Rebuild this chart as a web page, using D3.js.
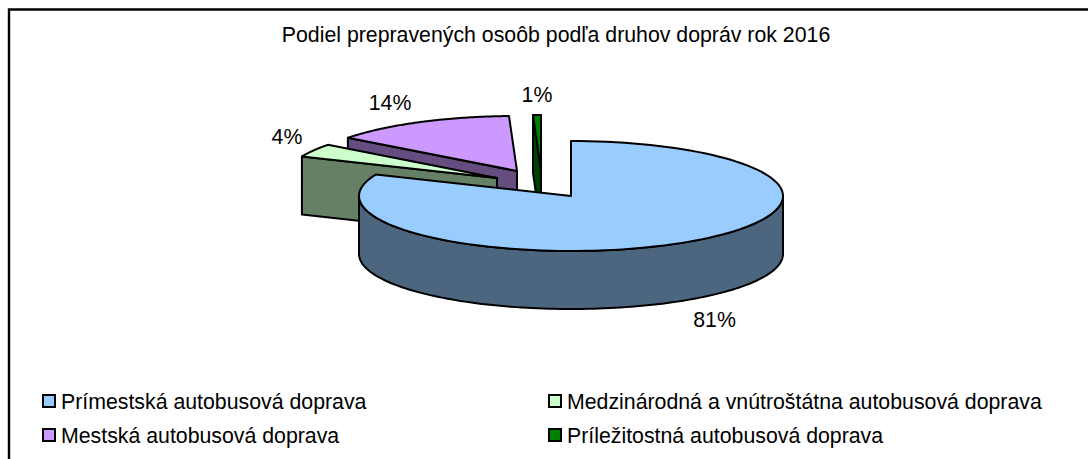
<!DOCTYPE html>
<html lang="sk">
<head>
  <meta charset="UTF-8">
  <title>Podiel prepravených osoôb</title>
  <style>
    html, body { margin: 0; padding: 0; background: #fff; overflow: hidden; }
    svg { display: block; }
    text { font-family: "Liberation Sans", Arial, sans-serif; fill: #000; }
  </style>
</head>
<body>
<div class="demo"></div>
<script src="https://d3js.org/d3.v7.min.js"></script>
<script>
  const title = 'Podiel prepravených osoôb podľa druhov dopráv rok 2016'
  const categories = [
    'Prímestská autobusová doprava',
    'Medzinárodná a vnútroštátna autobusová doprava',
    'Mestská autobusová doprava',
    'Príležitostná autobusová doprava'
  ]
  const values = [81.4, 3.9, 14.1, 0.6]
  const labels = ['81%', '4%', '14%', '1%']
  const colors = ['#99CCFF', '#CCFFCC', '#CC99FF', '#008000']

  // layout, not data
  const width = 1088, height = 459
  const cx = 571, cy = 196, rx = 212, ry = 55, depth = 58
  const fontSize = '21.3px'
  const explode = [[0, 0], [-74, -18], [-54, -25], [-30, -26]]
  const labelPos = [[714.5, 327], [287, 144], [390, 110], [537, 102]]
  const legendPos = [[43, 395], [549, 395], [43, 429], [549, 429]]

  let svg = d3.select('.demo').append('svg')
    .attr('width', width)
    .attr('height', height)

  // outer chart frame, open on the right and at the bottom
  svg.append('path')
    .attr('d', 'M9,' + height + 'V9.5H' + width)
    .attr('fill', 'none')
    .attr('stroke', '#000')
    .attr('stroke-width', 2.4)

  svg.append('text')
    .attr('x', 556)
    .attr('y', 42)
    .attr('text-anchor', 'middle')
    .attr('font-size', fontSize)
    .text(title)

  let pie = d3.pie().sort(null).value(d => d)(values)

  // pie angle -> point on the tilted ellipse
  let pt = (a, d) => [
    cx + d.ox + rx * Math.sin(a),
    cy + d.oy - ry * Math.cos(a)
  ]
  let rim = (a0, a1) => d3.range(0, 121).map(i => a0 + (a1 - a0) * i / 120)
  let line = d3.line()

  pie.forEach((d, i) => {
    d.ox = explode[i][0]
    d.oy = explode[i][1]
    d.fill = colors[i]
    let c = d3.rgb(colors[i])
    d.dark = d3.rgb(c.r / 2, c.g / 2, c.b / 2).formatHex()
  })

  let stroke = g => g.attr('stroke', '#000')
    .attr('stroke-width', 2)
    .attr('stroke-linejoin', 'round')

  // painted back to front
  let slices = svg.selectAll('g.slice')
    .data(pie.slice().reverse())
    .enter()
    .append('g')
    .attr('class', 'slice')

  // cut face on the starting edge, only the exploded ones show it
  slices.filter(d => d.startAngle > Math.PI)
    .append('path')
    .attr('d', d => {
      let a = pt(d.startAngle, d), o = [cx + d.ox, cy + d.oy]
      return line([a, o, [o[0], o[1] + depth], [a[0], a[1] + depth]]) + 'Z'
    })
    .attr('fill', d => d.dark)
    .call(stroke)

  // outer wall, front half of the ellipse
  slices.filter(d => d.startAngle < Math.PI / 2)
    .append('path')
    .attr('d', d => {
      let a0 = Math.PI / 2, a1 = Math.PI * 1.5
      let top = rim(a0, a1).map(a => pt(a, d))
      let bottom = rim(a1, a0).map(a => {
        let p = pt(a, d)
        return [p[0], p[1] + depth]
      })
      return line(top.concat(bottom)) + 'Z'
    })
    .attr('fill', d => d.dark)
    .call(stroke)

  // top face
  slices.append('path')
    .attr('d', d => {
      let ps = rim(d.startAngle, d.endAngle).map(a => pt(a, d))
      return line(ps.concat([[cx + d.ox, cy + d.oy]])) + 'Z'
    })
    .attr('fill', d => d.fill)
    .call(stroke)

  svg.selectAll('text.pct')
    .data(labels)
    .enter()
    .append('text')
    .attr('class', 'pct')
    .attr('x', (d, i) => labelPos[i][0])
    .attr('y', (d, i) => labelPos[i][1])
    .attr('text-anchor', 'middle')
    .attr('font-size', fontSize)
    .text(d => d)

  let legend = svg.selectAll('g.legend')
    .data(categories)
    .enter()
    .append('g')
    .attr('class', 'legend')
    .attr('transform', (d, i) => 'translate(' + legendPos[i] + ')')

  legend.append('rect')
    .attr('width', 12)
    .attr('height', 12)
    .attr('fill', (d, i) => colors[i])
    .attr('stroke', '#000')
    .attr('stroke-width', 2)

  legend.append('text')
    .attr('x', 18)
    .attr('y', 13.5)
    .attr('font-size', fontSize)
    .text(d => d)
</script>
</body>
</html>
